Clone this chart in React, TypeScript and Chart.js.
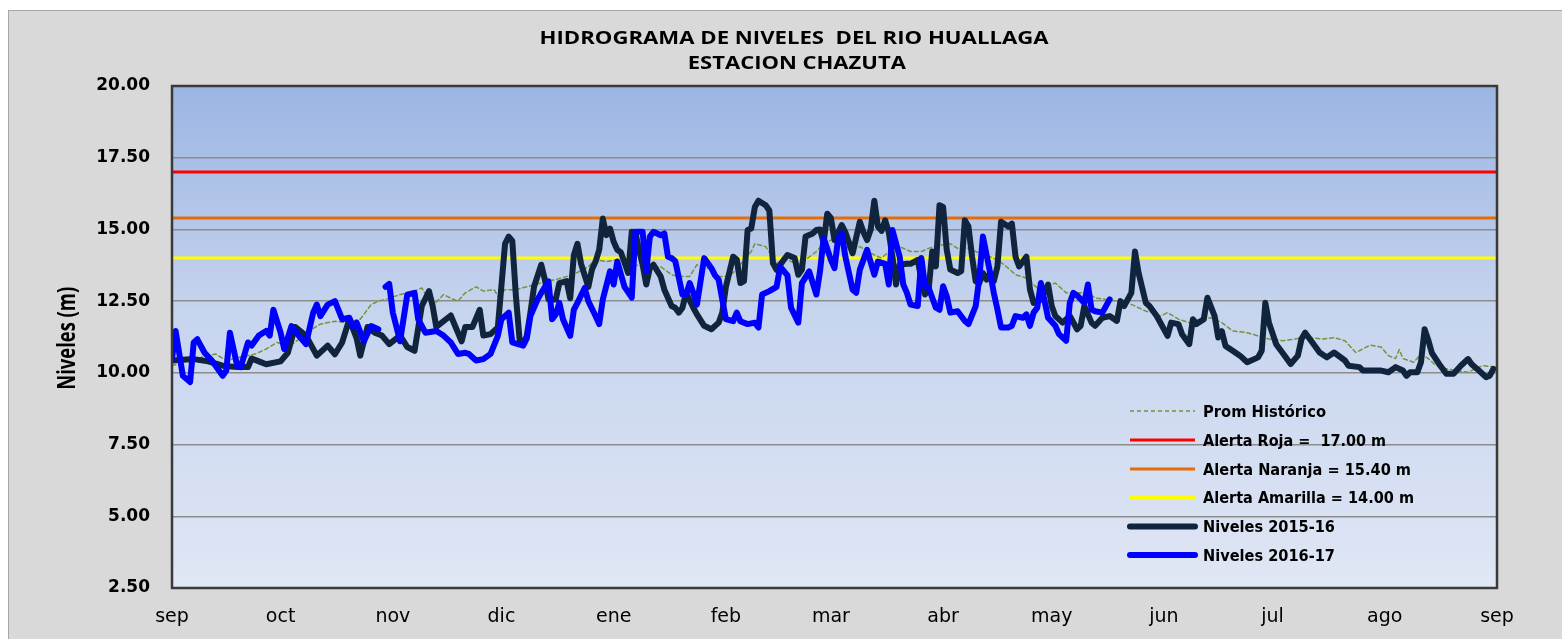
import React, { useEffect, useRef } from "react";
import { Chart, registerables } from "chart.js";

Chart.register(...registerables);

// ---- axis data ----
const monthDays = [0, 30, 61, 91, 122, 153, 182, 213, 243, 274, 304, 335, 366];
const monthLabels = ["sep", "oct", "nov", "dic", "ene", "feb", "mar", "abr", "may", "jun", "jul", "ago", "sep"];
const yMin = 2.5;
const yMax = 20;
const yStep = 2.5;

// ---- alert thresholds ----
const alertaRoja = 17.0;
const alertaNaranja = 15.4;
const alertaAmarilla = 14.0;

const legendLabels = [
  "Prom Histórico",
  "Alerta Roja =  17.00 m",
  "Alerta Naranja = 15.40 m",
  "Alerta Amarilla = 14.00 m",
  "Niveles 2015-16",
  "Niveles 2016-17",
];

// ---- Niveles 2015-16 (day offset from 1 Sep) ----
const days1516 = [0, 6, 10, 14, 18, 21, 22, 24, 26, 30, 32, 34, 37, 40, 43, 45, 47, 49, 51, 52, 54, 56, 58, 60, 63, 65, 67, 69, 71, 72, 73, 77, 80, 81, 83, 85, 86, 88, 90, 92, 93, 94, 95, 96, 97, 98, 99, 100, 102, 103, 104, 106, 107, 109, 110, 111, 112, 113, 115, 116, 117, 118, 119, 120, 121, 122, 123, 124, 126, 127, 128, 129, 130, 131, 132, 133, 135, 136, 138, 139, 140, 141, 142, 144, 145, 147, 149, 151, 152, 153, 155, 156, 157, 158, 159, 160, 161, 162, 164, 165, 166, 167, 169, 170, 172, 173, 174, 175, 177, 178, 179, 180, 181, 182, 183, 185, 186, 188, 190, 191, 192, 193, 194, 195, 196, 197, 198, 199, 200, 201, 203, 204, 206, 207, 208, 209, 210, 211, 212, 213, 214, 215, 217, 218, 219, 220, 221, 222, 223, 224, 225, 226, 227, 228, 229, 231, 232, 233, 234, 236, 237, 238, 240, 242, 243, 244, 246, 248, 250, 251, 252, 254, 255, 257, 259, 261, 262, 263, 265, 266, 267, 269, 270, 272, 275, 276, 278, 279, 281, 282, 283, 285, 286, 288, 289, 290, 291, 293, 295, 297, 300, 301, 302, 303, 305, 307, 309, 311, 312, 313, 315, 317, 319, 321, 324, 325, 328, 329, 332, 334, 336, 338, 340, 341, 342, 344, 345, 346, 347, 348, 350, 352, 354, 356, 358, 359, 361, 363, 364, 365];
const levels1516 = [10.43, 10.48, 10.4, 10.25, 10.2, 10.2, 10.5, 10.4, 10.3, 10.4, 10.7, 11.6, 11.3, 10.6, 10.95, 10.65, 11.06, 11.87, 11.2, 10.6, 11.6, 11.4, 11.3, 11.0, 11.3, 10.9, 10.77, 12.33, 12.85, 12.33, 11.6, 12.0, 11.1, 11.6, 11.6, 12.2, 11.3, 11.35, 11.58, 14.5, 14.75, 14.6, 12.67, 11.17, 11.0, 11.29, 12.1, 13.0, 13.77, 13.25, 12.56, 12.56, 13.13, 13.2, 12.6, 14.1, 14.5, 13.8, 13.0, 13.6, 13.88, 14.29, 15.38, 14.8, 15.03, 14.57, 14.29, 14.2, 13.48, 14.92, 14.9, 14.29, 13.77, 13.08, 13.65, 13.77, 13.36, 12.9, 12.33, 12.27, 12.1, 12.27, 12.79, 12.27, 12.04, 11.64, 11.52, 11.75, 12.1, 13.0, 14.05, 13.95, 13.13, 13.2, 14.98, 15.03, 15.78, 16.0, 15.84, 15.66, 13.82, 13.59, 13.94, 14.11, 14.0, 13.42, 13.6, 14.75, 14.86, 14.98, 15.0, 14.55, 15.55, 15.4, 14.63, 15.15, 14.9, 14.17, 15.27, 14.9, 14.63, 15.0, 16.0, 15.1, 14.95, 15.32, 14.9, 14.05, 13.08, 13.77, 13.8, 13.8, 13.94, 13.25, 12.73, 12.9, 14.23, 13.71, 15.84, 15.78, 14.29, 13.6, 13.48, 13.55, 15.32, 15.1, 14.05, 13.19, 13.13, 13.48, 13.25, 13.48, 13.19, 13.71, 15.27, 15.1, 15.2, 14.05, 13.71, 14.05, 12.9, 12.44, 12.56, 13.08, 12.33, 11.98, 11.75, 11.98, 11.52, 11.64, 12.33, 11.75, 11.64, 11.92, 11.98, 11.81, 12.5, 12.33, 12.79, 14.23, 13.48, 12.44, 12.33, 11.98, 11.29, 11.75, 11.7, 11.35, 11.0, 11.87, 11.7, 11.87, 12.62, 11.98, 11.23, 11.45, 10.94, 10.77, 10.6, 10.37, 10.54, 10.77, 12.44, 11.75, 11.0, 10.66, 10.31, 10.6, 11.18, 11.4, 11.06, 10.71, 10.54, 10.71, 10.43, 10.25, 10.2, 10.08, 10.08, 10.08, 10.02, 10.2, 10.08, 9.9, 10.02, 10.02, 10.37, 11.52, 11.15, 10.7, 10.31, 9.97, 9.97, 10.25, 10.48, 10.3, 10.08, 9.85, 9.9, 10.14];

// ---- Niveles 2016-17 (null = missing reading) ----
const days1617 = [0, 1, 3, 5, 6, 7, 9, 11, 14, 15, 16, 18, 19, 21, 22, 24, 26, 27, 28, 30, 31, 33, 35, 37, 39, 40, 41, 43, 45, 47, 49, 50, 51, 53, 55, 57, 58, 59, 60, 61, 63, 65, 67, 68, 70, 73, 75, 77, 79, 81, 82, 84, 86, 88, 90, 91, 93, 94, 97, 98, 99, 101, 102, 104, 105, 106, 107, 108, 110, 111, 112, 114, 115, 117, 118, 119, 121, 122, 123, 125, 127, 128, 130, 131, 132, 133, 135, 136, 137, 138, 139, 141, 142, 143, 144, 145, 147, 149, 150, 151, 153, 155, 156, 157, 159, 161, 162, 163, 165, 167, 168, 170, 171, 173, 174, 176, 178, 179, 180, 182, 183, 184, 185, 186, 188, 189, 190, 191, 192, 194, 195, 197, 198, 199, 201, 202, 203, 204, 206, 207, 208, 209, 211, 212, 213, 214, 215, 217, 219, 220, 222, 223, 224, 226, 227, 228, 229, 231, 232, 233, 235, 236, 237, 238, 239, 240, 242, 244, 245, 247, 248, 249, 250, 252, 253, 254, 255, 257, 259];
const levels1617 = [10.48, 11.46, 9.9, 9.68, 11.06, 11.17, 10.7, 10.43, 9.9, 10.08, 11.4, 10.25, 10.2, 11.06, 10.95, 11.3, 11.46, 11.3, 12.2, 11.4, 10.83, 11.63, 11.3, 11.0, 12.1, 12.38, 11.98, 12.38, 12.5, 11.87, 11.92, 11.6, 11.75, 11.1, 11.63, 11.52, null, 13.0, 13.1, 12.1, 11.1, 12.73, 12.79, 11.87, 11.4, 11.46, 11.3, 11.06, 10.66, 10.7, 10.66, 10.43, 10.48, 10.66, 11.29, 11.87, 12.1, 11.06, 10.95, 11.2, 11.98, 12.56, 12.79, 13.19, 11.87, 12.04, 12.44, 11.87, 11.29, 12.2, 12.44, 12.96, 12.5, 11.98, 11.7, 12.56, 13.54, 13.08, 13.88, 13.0, 12.62, 14.92, 14.92, 13.54, 14.75, 14.92, 14.8, 14.86, 14.05, 14.0, 13.9, 12.73, 12.73, 13.13, 12.79, 12.38, 14.0, 13.65, 13.4, 13.25, 11.87, 11.8, 12.1, 11.8, 11.7, 11.75, 11.58, 12.73, 12.85, 13.0, 13.7, 13.4, 12.27, 11.75, 13.13, 13.54, 12.73, 13.54, 14.7, 13.94, 13.65, 14.69, 14.86, 14.05, 12.9, 12.79, 13.6, 13.94, 14.29, 13.42, 13.88, 13.8, 13.08, 14.98, 14.05, 13.08, 12.79, 12.38, 12.33, 14.0, 13.02, 12.97, 12.27, 12.2, 13.02, 12.67, 12.1, 12.15, 11.81, 11.7, 12.33, 13.31, 14.75, 13.48, 12.79, 12.21, 11.58, 11.58, 11.64, 11.98, 11.92, 12.04, 11.64, 12.1, 12.27, 13.13, 11.92, 11.64, 11.35, 11.12, 12.44, 12.79, 12.7, 12.44, 13.08, 12.21, 12.15, 12.1, 12.56];

// ---- Promedio histórico ----
const histDays = [0, 6, 10, 12, 15, 19, 23, 26, 29, 32, 34, 37, 41, 45, 48, 52, 55, 57, 59, 63, 67, 69, 72, 75, 77, 79, 81, 84, 86, 89, 90, 92, 95, 98, 101, 103, 106, 109, 112, 115, 117, 120, 123, 126, 128, 131, 135, 138, 140, 143, 145, 149, 151, 154, 157, 160, 161, 164, 167, 170, 173, 175, 178, 180, 182, 185, 187, 190, 193, 196, 198, 201, 204, 207, 209, 212, 215, 217, 220, 222, 225, 228, 231, 233, 236, 239, 242, 244, 247, 250, 253, 255, 258, 261, 264, 266, 269, 271, 273, 275, 278, 281, 284, 287, 290, 293, 297, 300, 303, 307, 311, 314, 318, 321, 324, 327, 331, 334, 336, 338, 339, 340, 343, 345, 347, 349, 352, 355, 358, 360, 362, 366];
const histLevels = [10.25, 10.48, 10.6, 10.66, 10.43, 10.55, 10.66, 10.83, 11.06, 10.95, 11.06, 11.4, 11.7, 11.8, 11.75, 11.87, 12.38, 12.5, 12.56, 12.73, 12.85, 12.96, 12.33, 12.73, 12.6, 12.5, 12.79, 13.0, 12.85, 12.9, 12.67, 12.9, 12.9, 13.0, 13.1, 13.19, 13.25, 13.36, 13.5, 13.7, 13.94, 13.88, 13.94, 13.94, 13.77, 13.65, 13.7, 13.42, 13.36, 13.36, 13.77, 13.6, 13.36, 13.36, 13.77, 14.23, 14.5, 14.4, 13.82, 13.94, 13.77, 13.94, 14.23, 14.5, 14.63, 14.63, 14.29, 14.4, 14.17, 14.0, 14.23, 14.4, 14.23, 14.23, 14.34, 14.45, 14.5, 14.34, 14.34, 14.23, 14.1, 13.94, 13.65, 13.42, 13.31, 12.96, 13.05, 13.13, 12.79, 12.79, 12.79, 12.61, 12.56, 12.5, 12.44, 12.33, 12.15, 12.1, 11.98, 12.1, 11.87, 11.75, 11.87, 11.92, 11.75, 11.46, 11.4, 11.29, 11.18, 11.12, 11.2, 11.23, 11.18, 11.23, 11.12, 10.71, 10.97, 10.9, 10.6, 10.5, 10.81, 10.5, 10.37, 10.66, 10.5, 10.27, 10.14, 10.08, 10.02, 10.14, 10.25, 10.2];

const toPoints = (xs: number[], ys: (number | null)[]) => xs.map((x, i) => ({ x, y: ys[i] }));

// canvas offset from page (frame at left 8 / top 10 plus 1px border)
const OFFX = 9;
const OFFY = 11;

function fitText(ctx: CanvasRenderingContext2D, text: string, x: number, y: number, width: number, font: string, align: "center" | "left") {
  ctx.save();
  ctx.font = font;
  ctx.fillStyle = "#000000";
  ctx.textBaseline = "alphabetic";
  ctx.textAlign = "left";
  const w = ctx.measureText(text).width;
  const sx = width / w;
  const left = align === "center" ? x - width / 2 : x;
  ctx.translate(left, y);
  ctx.scale(sx, 1);
  ctx.fillText(text, 0, 0);
  ctx.restore();
}

const decorPlugin = {
  id: "decor",
  beforeDraw(chart: any) {
    const { ctx, chartArea: a } = chart;
    ctx.save();
    const g = ctx.createLinearGradient(0, a.top, 0, a.bottom);
    g.addColorStop(0, "#9bb5e3");
    g.addColorStop(0.45, "#c6d4ee");
    g.addColorStop(1, "#e0e7f5");
    ctx.fillStyle = g;
    ctx.fillRect(a.left, a.top, a.right - a.left, a.bottom - a.top);
    ctx.restore();
  },
  afterDraw(chart: any) {
    const { ctx, chartArea: a } = chart;
    ctx.save();
    // plot border
    ctx.strokeStyle = "#3a3a3a";
    ctx.lineWidth = 2.5;
    ctx.strokeRect(a.left, a.top, a.right - a.left, a.bottom - a.top);
    ctx.restore();

    // titles
    fitText(ctx, "HIDROGRAMA DE NIVELES  DEL RIO HUALLAGA", 794 - OFFX, 44.3 - OFFY, 509, "bold 17px 'Open Sans'", "center");
    fitText(ctx, "ESTACION CHAZUTA", 796.8 - OFFX, 68.5 - OFFY, 218, "bold 17px 'Open Sans'", "center");

    // y axis title
    ctx.save();
    ctx.translate(75 - OFFX, 338.3 - OFFY);
    ctx.rotate(-Math.PI / 2);
    fitText(ctx, "Niveles (m)", 0, 0, 103, "bold 25px 'Open Sans'", "center");
    ctx.restore();

    // legend
    const rowsY = [411, 440, 469, 497.5, 526.5, 555];
    const styles = [
      { c: "#77933c", w: 1.5, dash: [4, 3] },
      { c: "#ff0000", w: 3, dash: [] },
      { c: "#e46c0a", w: 3, dash: [] },
      { c: "#ffff00", w: 3, dash: [] },
      { c: "#10243e", w: 6, dash: [] },
      { c: "#0000ff", w: 6, dash: [] },
    ];
    const textW = [123, 183, 208, 211, 132, 132];
    legendLabels.forEach((lab, i) => {
      const y = rowsY[i] - OFFY;
      const s = styles[i];
      ctx.save();
      ctx.strokeStyle = s.c;
      ctx.lineWidth = s.w;
      ctx.setLineDash(s.dash);
      ctx.lineCap = s.w > 4 ? "round" : "butt";
      ctx.beginPath();
      ctx.moveTo(1130 - OFFX, y);
      ctx.lineTo(1195 - OFFX, y);
      ctx.stroke();
      ctx.restore();
      fitText(ctx, lab, 1203 - OFFX, y + 5.5, textW[i], "bold 15px 'DejaVu Sans'", "left");
    });
  },
};

export default function App() {
  const ref = useRef<HTMLCanvasElement>(null);
  useEffect(() => {
    const canvas = ref.current;
    if (!canvas) return;
    const lineBase = { pointRadius: 0, tension: 0, borderJoinStyle: "round" as const, borderCapStyle: "round" as const, fill: false };
    const chart = new Chart(canvas, {
      type: "line",
      data: {
        datasets: [
          { ...lineBase, label: legendLabels[5], data: toPoints(days1617, levels1617), borderColor: "#0000ff", borderWidth: 6, order: 0, spanGaps: false },
          { ...lineBase, label: legendLabels[4], data: toPoints(days1516, levels1516), borderColor: "#10243e", borderWidth: 6, order: 1 },
          { ...lineBase, label: legendLabels[0], data: toPoints(histDays, histLevels), borderColor: "#77933c", borderWidth: 1.5, borderDash: [4, 3], order: 2 },
          { ...lineBase, label: legendLabels[1], data: toPoints([0, 366], [alertaRoja, alertaRoja]), borderColor: "#ff0000", borderWidth: 3, borderCapStyle: "butt", order: 3 },
          { ...lineBase, label: legendLabels[2], data: toPoints([0, 366], [alertaNaranja, alertaNaranja]), borderColor: "#e46c0a", borderWidth: 3, borderCapStyle: "butt", order: 4 },
          { ...lineBase, label: legendLabels[3], data: toPoints([0, 366], [alertaAmarilla, alertaAmarilla]), borderColor: "#ffff00", borderWidth: 3, borderCapStyle: "butt", order: 5 },
        ] as any,
      },
      options: {
        animation: false,
        responsive: false,
        layout: { padding: { top: 86 - OFFY, right: 1562 - 1497, left: 0, bottom: 0 } },
        plugins: { legend: { display: false }, title: { display: false }, tooltip: { enabled: false } },
        scales: {
          x: {
            type: "linear",
            min: 0,
            max: 366,
            afterFit: (s: any) => { s.height = 639 - 588; },
            afterBuildTicks: (s: any) => { s.ticks = monthDays.map((v) => ({ value: v })); },
            grid: { display: false, drawTicks: false },
            border: { display: false },
            ticks: {
              autoSkip: false,
              maxRotation: 0,
              padding: 18,
              color: "#000000",
              font: { family: "'DejaVu Sans'", size: 19 },
              callback: (_v: any, i: number) => monthLabels[i],
            },
          },
          y: {
            min: yMin,
            max: yMax,
            afterFit: (s: any) => { s.width = 172 - OFFX; },
            grid: { color: "#8c8c8c", lineWidth: 1.5, drawTicks: false },
            border: { display: false },
            ticks: {
              stepSize: yStep,
              padding: 22,
              color: "#000000",
              font: { family: "'DejaVu Sans'", size: 17, weight: "bold" },
              callback: (v: any) => Number(v).toFixed(2),
            },
          },
        },
      } as any,
      plugins: [decorPlugin],
    });
    return () => chart.destroy();
  }, []);
  return (
    <div
      style={{
        position: "fixed",
        left: 8,
        top: 10,
        width: 1554,
        height: 629,
        background: "#d9d9d9",
        borderTop: "1px solid #a6a6a6",
        borderLeft: "1px solid #a6a6a6",
        boxSizing: "border-box",
      }}
    >
      <canvas ref={ref} width={1553} height={628} style={{ display: "block" }} />
    </div>
  );
}
